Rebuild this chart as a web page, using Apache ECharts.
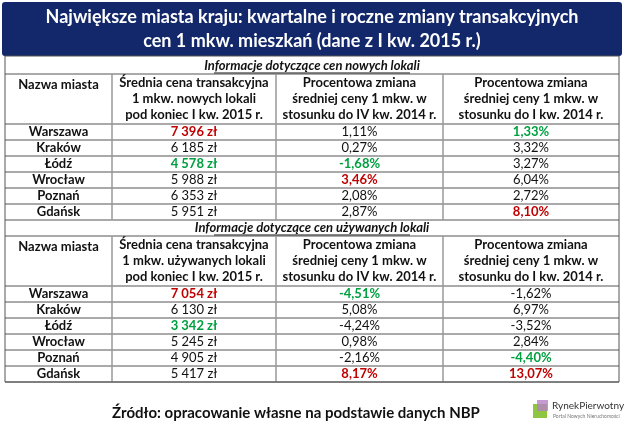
<!DOCTYPE html>
<html><head><meta charset="utf-8">
<script src="https://cdn.jsdelivr.net/npm/echarts@6/dist/echarts.min.js"></script>
<style>html,body{margin:0;padding:0;background:#fff}#chart{width:625px;height:431px}</style>
</head><body><div id="chart"></div>
<script>
var title = ["Największe miasta kraju: kwartalne i roczne zmiany transakcyjnych", "cen 1 mkw. mieszkań (dane z I kw. 2015 r.)"];
var cities = ["Warszawa", "Kraków", "Łódź", "Wrocław", "Poznań", "Gdańsk"];
var section1 = "Informacje dotyczące cen nowych lokali";
var section2 = "Informacje dotyczące cen używanych lokali";
var header1 = ["Nazwa miasta", "Średnia cena transakcyjna\n1 mkw. nowych lokali\npod koniec I kw. 2015 r.", "Procentowa zmiana\nśredniej ceny 1 mkw. w\nstosunku do IV kw. 2014 r.", "Procentowa zmiana\nśredniej ceny 1 mkw. w\nstosunku do I kw. 2014 r."];
var header2 = ["Nazwa miasta", "Średnia cena transakcyjna\n1 mkw. używanych lokali\npod koniec I kw. 2015 r.", "Procentowa zmiana\nśredniej ceny 1 mkw. w\nstosunku do IV kw. 2014 r.", "Procentowa zmiana\nśredniej ceny 1 mkw. w\nstosunku do I kw. 2014 r."];
var newPrice = ["7 396 zł", "6 185 zł", "4 578 zł", "5 988 zł", "6 353 zł", "5 951 zł"];
var newQoq = ["1,11%", "0,27%", "-1,68%", "3,46%", "2,08%", "2,87%"];
var newYoy = ["1,33%", "3,32%", "3,27%", "6,04%", "2,72%", "8,10%"];
var newMark = [["r", "", "g"], ["", "", ""], ["g", "g", ""], ["", "r", ""], ["", "", ""], ["", "", "r"]];
var usedPrice = ["7 054 zł", "6 130 zł", "3 342 zł", "5 245 zł", "4 905 zł", "5 417 zł"];
var usedQoq = ["-4,51%", "5,08%", "-4,24%", "0,98%", "-2,16%", "8,17%"];
var usedYoy = ["-1,62%", "6,97%", "-3,52%", "2,84%", "-4,40%", "13,07%"];
var usedMark = [["r", "g", ""], ["", "", ""], ["g", "", ""], ["", "", ""], ["", "", "g"], ["", "r", "r"]];
var source = "Źródło: opracowanie własne na podstawie danych NBP";

var FONT = "Lato";
var colX = [5, 112, 276, 443, 619];
var rowH = 16;
var els = [];
var colors = { r: "#c00000", g: "#00a040", "": "#111" };

function txt(x, y, s, o) {
  o = o || {};
  els.push({ type: "text", x: x, y: y, style: { text: s, fill: o.fill || "#111", font: (o.italic ? "italic " : "") + (o.bold ? "bold " : "") + (o.size || 13) + "px '" + FONT + "'", align: o.align || "center", verticalAlign: "middle", lineHeight: o.lh || 16 } });
}
function hline(y, c) { els.push({ type: "line", shape: { x1: colX[0], y1: y, x2: colX[4], y2: y }, style: { stroke: c || "#555", lineWidth: 1 } }); }
function vline(x, y1, y2) { els.push({ type: "line", shape: { x1: x, y1: y1, x2: x, y2: y2 }, style: { stroke: "#999", lineWidth: 1.5 } }); }

function block(top, sec, header, price, qoq, yoy, mark) {
  txt(312, top + 8, sec, { italic: true, bold: true });
  els.push({ type: "line", shape: { x1: 214, y1: top + 15, x2: 410, y2: top + 15 }, style: { stroke: "#111", lineWidth: 1 } });
  hline(top + 16);
  var hTop = top + 16, hBot = hTop + 50;
  for (var c = 0; c < 4; c++) {
    txt((colX[c] + colX[c + 1]) / 2, c === 0 ? hTop + 11 : hTop + 25, header[c], { bold: true, lh: 16 });
  }
  hline(hBot);
  for (var i = 0; i < cities.length; i++) {
    var y = hBot + i * rowH + rowH / 2;
    txt((colX[0] + colX[1]) / 2, y, cities[i], { bold: true });
    var vals = [price[i], qoq[i], yoy[i]];
    for (var k = 0; k < 3; k++) {
      var m = mark[i][k];
      txt((colX[k + 1] + colX[k + 2]) / 2, y, vals[k], { bold: m !== "", fill: colors[m] });
    }
    hline(hBot + (i + 1) * rowH);
  }
  for (var v = 1; v < 4; v++) vline(colX[v], hTop, hBot + cities.length * rowH);
  return hBot + cities.length * rowH;
}

els.push({ type: "rect", shape: { x: 2, y: 2, width: 620, height: 54, r: 3 }, style: { fill: "#13286b" } });
txt(312, 17, title[0], { bold: true, size: 18, fill: "#fff" });
txt(312, 41, title[1], { bold: true, size: 18, fill: "#fff" });
var end1 = block(58, section1, header1, newPrice, newQoq, newYoy, newMark);
var end2 = block(end1, section2, header2, usedPrice, usedQoq, usedYoy, usedMark);
els.push({ type: "rect", shape: { x: colX[0], y: 56, width: colX[4] - colX[0], height: end2 - 56 }, style: { fill: "none", stroke: "#555", lineWidth: 1 } });
txt(296, 413, source, { bold: true, size: 15 });
els.push({ type: "rect", shape: { x: 533, y: 404, width: 14, height: 14 }, style: { fill: "#8fc641" } });
els.push({ type: "rect", shape: { x: 537, y: 400, width: 11, height: 11 }, style: { fill: "#b77fc6", opacity: 0.8 } });
txt(552, 406, "RynekPierwotny", { size: 10, align: "left", fill: "#333" });
txt(553, 416, "Portal Nowych Nieruchomości", { size: 5, align: "left", fill: "#777" });

var chart = echarts.init(document.getElementById("chart"));
chart.setOption({ animation: false, graphic: { elements: els } });
</script></body></html>
